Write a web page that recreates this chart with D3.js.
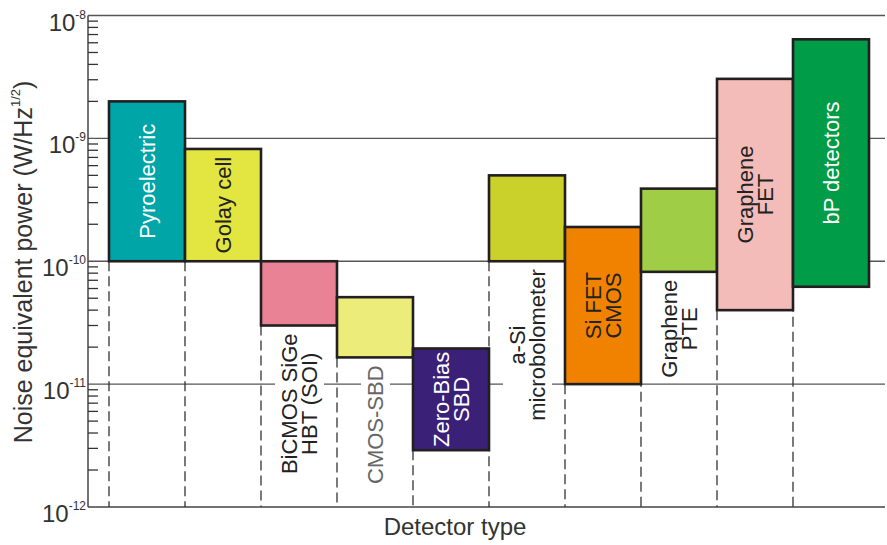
<!DOCTYPE html>
<html>
<head>
<meta charset="utf-8">
<script src="https://cdn.jsdelivr.net/npm/d3@7"></script>
<style>
  body { margin: 0; background: #fff; }
  text { font-family: "Liberation Sans", Arial, sans-serif; }
</style>
</head>
<body>
<div id="chart-area"></div>
<script>
// Data
// ****
const detectors = ["Pyroelectric", "Golay cell", "BiCMOS SiGe HBT (SOI)", "CMOS-SBD", "Zero-Bias SBD",
  "a-Si microbolometer", "Si FET CMOS", "Graphene PTE", "Graphene FET", "bP detectors"]
const labelLines = [["Pyroelectric"], ["Golay cell"], ["BiCMOS SiGe", "HBT (SOI)"], ["CMOS-SBD"], ["Zero-Bias", "SBD"],
  ["a-Si", "microbolometer"], ["Si FET", "CMOS"], ["Graphene", "PTE"], ["Graphene", "FET"], ["bP detectors"]]
const nepHigh = [2.0e-9, 8.2e-10, 1.0e-10, 5.1e-11, 1.95e-11, 5.0e-10, 1.9e-10, 3.9e-10, 3.05e-9, 6.4e-9]
const nepLow  = [1.0e-10, 1.0e-10, 3.0e-11, 1.65e-11, 2.9e-12, 1.0e-10, 1.0e-11, 8.2e-11, 4.0e-11, 6.2e-11]
const labelInside = [true, true, false, false, true, false, true, false, true, true]
const decades = [-12, -11, -10, -9, -8]

const barColors = ["#00a5a8", "#e3e540", "#e98295", "#ecec7b", "#3a2177", "#cbd12b", "#f08200", "#9fcd46", "#f3bcb8", "#009c48"]
const textColors = ["#fff", "#222", "#222", "#666", "#fff", "#222", "#222", "#222", "#222", "#fff"]

const data = detectors.map((d, i) => ({
  name: d, lines: labelLines[i], hi: nepHigh[i], lo: nepLow[i],
  inside: labelInside[i], fill: barColors[i], tc: textColors[i]
}))

// Config
// ******
const W = 887, H = 545
const plot = {left: 88, right: 885, top: 15.5, bottom: 507}

const svg = d3.select("#chart-area").append("svg")
  .attr("width", W).attr("height", H)

const y = d3.scaleLog().domain([1e-12, 1e-8]).range([plot.bottom, plot.top])
const x = d3.scaleBand().domain(detectors).range([109, 869]).padding(0)

// Grid lines
svg.append("g").selectAll("line").data(decades.slice(1))
  .enter().append("line")
    .attr("x1", plot.left).attr("x2", plot.right)
    .attr("y1", d => y(Math.pow(10, d))).attr("y2", d => y(Math.pow(10, d)))
    .attr("stroke", "#555").attr("stroke-width", 1.3)

// Axis lines
svg.append("line").attr("x1", plot.left).attr("x2", plot.left).attr("y1", plot.top).attr("y2", plot.bottom)
  .attr("stroke", "#444").attr("stroke-width", 1.5)
svg.append("line").attr("x1", plot.left).attr("x2", plot.right).attr("y1", plot.bottom).attr("y2", plot.bottom)
  .attr("stroke", "#444").attr("stroke-width", 1.5)

// Minor ticks (inside)
const minor = []
decades.slice(0, -1).forEach(e => { for (let k = 2; k <= 9; k++) minor.push(k * Math.pow(10, e)) })
svg.append("g").selectAll("line").data(minor)
  .enter().append("line")
    .attr("x1", plot.left).attr("x2", plot.left + 10)
    .attr("y1", d => y(d)).attr("y2", d => y(d))
    .attr("stroke", "#333").attr("stroke-width", 1.3)

// Tick labels 10^n
const tl = svg.append("g").selectAll("text").data(decades)
  .enter().append("text")
    .attr("x", 86).attr("y", d => y(Math.pow(10, d)) + 15)
    .attr("text-anchor", "end")
    .attr("font-size", "24px").attr("fill", "#333")
tl.append("tspan").text("10")
tl.append("tspan").attr("dy", -12).attr("font-size", "12px").text(d => String(d))

// Outside labels background + dashed drop lines
const outside = svg.append("g")
const dashes = svg.append("g")
data.forEach(d => {
  dashes.append("line")
    .attr("x1", x(d.name)).attr("x2", x(d.name))
    .attr("y1", y(d.lo)).attr("y2", plot.bottom)
    .attr("stroke", "#333").attr("stroke-width", 1.3)
    .attr("stroke-dasharray", "10,5")
})

// Bars
svg.append("g").selectAll("rect").data(data)
  .enter().append("rect")
    .attr("x", d => x(d.name))
    .attr("y", d => y(d.hi))
    .attr("width", x.bandwidth())
    .attr("height", d => y(d.lo) - y(d.hi))
    .attr("fill", d => d.fill)
    .attr("stroke", "#231f20").attr("stroke-width", 2.6)

// Bar labels
const lineGap = 20
data.forEach(d => {
  const cx = x(d.name) + x.bandwidth() / 2
  const t = svg.append("text")
    .attr("font-size", "22px").attr("fill", d.tc)
    .attr("text-anchor", "middle")
  d.lines.forEach((s, j) => {
    t.append("tspan").attr("x", 0)
      .attr("y", (j - (d.lines.length - 1) / 2) * lineGap + 8)
      .text(s)
  })
  let cy
  if (d.inside) {
    cy = (y(d.hi) + y(d.lo)) / 2
  } else {
    const len = d3.max(t.selectAll("tspan").nodes(), n => n.getComputedTextLength())
    cy = y(d.lo) + 8 + len / 2
  }
  t.attr("transform", "translate(" + cx + "," + cy + ") rotate(-90)")
  if (!d.inside) {
    const b = t.node().getBBox()
    outside.append("rect")
      .attr("x", b.x - 3).attr("y", b.y - 2)
      .attr("width", b.width + 6).attr("height", b.height + 4)
      .attr("fill", "#fff")
      .attr("transform", "translate(" + cx + "," + cy + ") rotate(-90)")
  }
})

// Axis titles
svg.append("text")
  .attr("x", 455).attr("y", 535)
  .attr("text-anchor", "middle")
  .attr("font-size", "24px").attr("fill", "#333")
  .text("Detector type")

const yt = svg.append("text")
  .attr("transform", "translate(32," + 262 + ") rotate(-90)")
  .attr("text-anchor", "middle")
  .attr("font-size", "25px").attr("fill", "#333")
yt.append("tspan").text("Noise equivalent power (W/Hz")
yt.append("tspan").attr("dy", -12).attr("font-size", "13px").text("1/2")
yt.append("tspan").attr("dy", 12).text(")")
</script>
</body>
</html>
